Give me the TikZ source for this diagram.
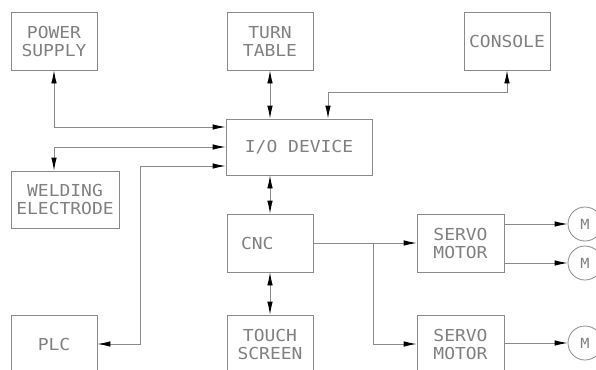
\documentclass[tikz,border=0pt]{standalone}
\usepackage{fontspec}
\newfontfamily\cadfont[FakeStretch=1.09]{DejaVu Sans Mono}
\usetikzlibrary{arrows.meta,calc}
\definecolor{cadLine}{HTML}{8a8a8a}
\definecolor{cadText}{HTML}{808080}
\tikzset{
  blk/.style={draw=cadLine, line width=0.8pt, minimum width=86pt,
              minimum height=58pt, align=center, inner sep=2pt,
              font=\cadfont\fontsize{16.5}{18}\selectfont, text=cadText},
  motor/.style={circle, draw=cadLine, line width=0.8pt, minimum size=34pt,
              inner sep=0pt, font=\cadfont\fontsize{14}{16}\selectfont, text=cadText},
  link/.style={draw=cadLine, line width=0.8pt,
              -{Latex[length=13pt,width=5.5pt,color=black]}},
  dlink/.style={draw=cadLine, line width=0.8pt,
              {Latex[length=13pt,width=5.5pt,color=black]}-{Latex[length=13pt,width=5.5pt,color=black]}},
}

\begin{document}
\begin{tikzpicture}[x=1pt,y=-1pt]
  \useasboundingbox (0,0) rectangle (596,369);
  \clip (0,0) rectangle (596,369);
  % blocks
  \node[blk] (pw) at (54,41) {POWER\\SUPPLY};
  \node[blk] (tt) at (270,41) {TURN\\TABLE};
  \node[blk] (co) at (507,41) {CONSOLE};
  \node[blk,minimum width=146pt,minimum height=56pt] (io) at (299,147) {I/O DEVICE};
  \node[blk,minimum width=108pt,minimum height=57pt] (we) at (65,199.5) {WELDING\\ELECTRODE};
  \node[blk] (plc) at (54,344) {PLC};
  \node[blk,text width=58pt,align=left,inner sep=14pt,minimum height=58pt] (cnc) at (270,243) {CNC};
  \node[blk] (ts) at (270,344) {TOUCH\\SCREEN};
  \node[blk,minimum width=87pt] (s1) at (460.5,243) {SERVO\\MOTOR};
  \node[blk,minimum width=87pt] (s2) at (460.5,344) {SERVO\\MOTOR};
  \foreach \m/\y in {1/224,2/263,3/343}{
    \node[motor] (m\m) at (585,\y) {M};
  }
  % bends
  \coordinate (cobend) at (328,92);
  \coordinate (plcbend) at (140,166);
  \coordinate (br) at (373,243);
  % connectors
  \draw[dlink] (pw.south) |- ([yshift=20pt]io.west);
  \draw[dlink] (pw.south |- we.north) |- (io.west);
  \draw[dlink] (plc.east) -| (plcbend) -- ([yshift=-19pt]io.west);
  \draw[dlink] (tt.south) -- (tt.south |- io.north);
  \draw[dlink] (co.south) |- (cobend) -- (cobend |- io.north);
  \draw[dlink] (cnc.north |- io.south) -- (cnc.north);
  \draw[dlink] (cnc.south) -- (ts.north);
  \draw[link] (cnc.east) -- (s1.west);
  \draw[link] (br) |- (s2.west);
  \draw[link] (m1 -| s1.east) -- (m1);
  \draw[link] (m2 -| s1.east) -- (m2);
  \draw[link] (m3 -| s2.east) -- (m3);
\end{tikzpicture}
\end{document}
